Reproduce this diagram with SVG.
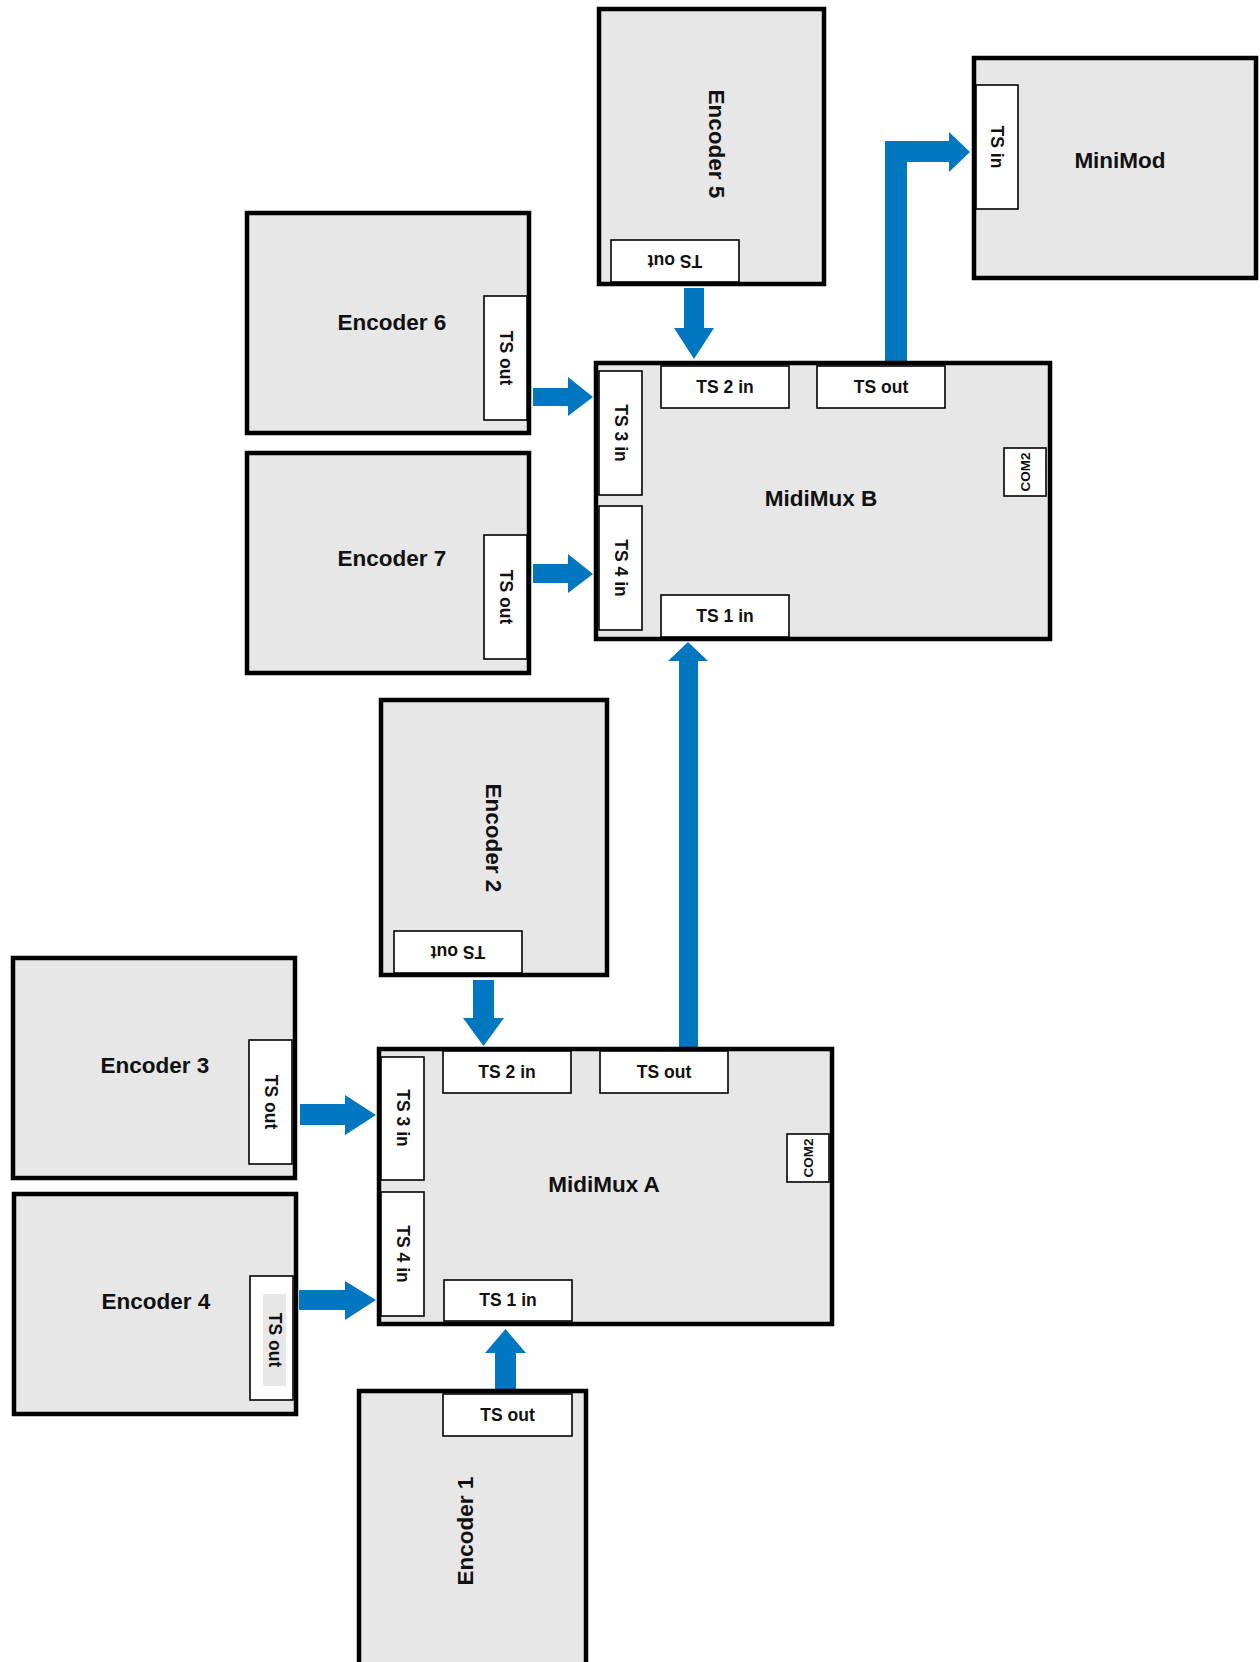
<svg xmlns="http://www.w3.org/2000/svg" width="1260" height="1662" viewBox="0 0 1260 1662">
<style>
.box{fill:#e6e7e6;stroke:#000;stroke-width:4.5}
.port{fill:#fff;stroke:#000;stroke-width:1.6}
.t{font-family:"Liberation Sans",Arial,sans-serif;font-weight:bold;fill:#111;text-anchor:middle;dominant-baseline:central}
.big{font-size:22.5px}
.sm{font-size:17.5px}
.xs{font-size:13.5px}
.arr{fill:#0077c0}
</style>
<rect width="1260" height="1662" fill="#fff"/>
<g id="connectors">
<polygon class="arr" points="684,288 704,288 704,328 714,328 694,359 674,328 684,328"/>
<polygon class="arr" points="533,388 568,388 568,377 593,397 568,416 568,406 533,406"/>
<polygon class="arr" points="533,564 568,564 568,554 593,574 568,593 568,583 533,583"/>
<polygon class="arr" points="679,1048 679,661 668,661 688,642 708,661 698,661 698,1048"/>
<polygon class="arr" points="885,361 885,141 949,141 949,132 970,152 949,172 949,162 907,162 907,361"/>
<polygon class="arr" points="473,980 494,980 494,1018 504,1018 483.5,1046 463,1018 473,1018"/>
<polygon class="arr" points="300,1104 345,1104 345,1095 376,1115 345,1135 345,1125 300,1125"/>
<polygon class="arr" points="299,1290 345,1290 345,1281 376,1300 345,1320 345,1310 299,1310"/>
<polygon class="arr" points="495,1389 495,1353 485,1353 505.5,1329 526,1353 516,1353 516,1389"/>
</g>
<g id="encoder5">
<rect class="box" x="599" y="9" width="225" height="275"/>
<rect class="port" x="611" y="240" width="128" height="42"/>
<text class="t sm" transform="rotate(180 675 261)" x="675" y="261">TS out</text>
<text class="t big" transform="rotate(90 716 144)" x="716" y="144">Encoder 5</text>
</g>
<g id="minimod">
<rect class="box" x="974" y="58" width="282" height="220"/>
<rect class="port" x="976" y="85" width="42" height="124"/>
<text class="t sm" transform="rotate(90 997 147)" x="997" y="147">TS in</text>
<text class="t big" x="1120" y="160">MiniMod</text>
</g>
<g id="encoder6">
<rect class="box" x="247" y="213" width="282" height="220"/>
<rect class="port" x="484" y="296" width="43" height="124"/>
<text class="t sm" transform="rotate(90 505.5 358)" x="505.5" y="358">TS out</text>
<text class="t big" x="392" y="322">Encoder 6</text>
</g>
<g id="encoder7">
<rect class="box" x="247" y="453" width="282" height="220"/>
<rect class="port" x="484" y="535" width="43" height="124"/>
<text class="t sm" transform="rotate(90 505.5 597)" x="505.5" y="597">TS out</text>
<text class="t big" x="392" y="558">Encoder 7</text>
</g>
<g id="midimuxB">
<rect class="box" x="596" y="363" width="454" height="276"/>
<rect class="port" x="599" y="371" width="43" height="124"/>
<rect class="port" x="599" y="506" width="43" height="124"/>
<rect class="port" x="661" y="366" width="128" height="42"/>
<rect class="port" x="817" y="366" width="128" height="42"/>
<rect class="port" x="661" y="595" width="128" height="42"/>
<rect class="port" x="1004" y="448" width="42" height="48"/>
<text class="t sm" transform="rotate(90 620.5 433)" x="620.5" y="433">TS 3 in</text>
<text class="t sm" transform="rotate(90 620.5 568)" x="620.5" y="568">TS 4 in</text>
<text class="t sm" x="725" y="387">TS 2 in</text>
<text class="t sm" x="881" y="387">TS out</text>
<text class="t sm" x="725" y="616">TS 1 in</text>
<text class="t xs" transform="rotate(-90 1025 472)" x="1025" y="472">COM2</text>
<text class="t big" x="821" y="498">MidiMux B</text>
</g>
<g id="encoder2">
<rect class="box" x="381" y="700" width="226" height="275"/>
<rect class="port" x="394" y="931" width="128" height="42"/>
<text class="t sm" transform="rotate(180 458 952)" x="458" y="952">TS out</text>
<text class="t big" transform="rotate(90 493 838)" x="493" y="838">Encoder 2</text>
</g>
<g id="encoder3">
<rect class="box" x="13" y="958" width="282" height="220"/>
<rect class="port" x="249" y="1040" width="43" height="124"/>
<text class="t sm" transform="rotate(90 270.5 1102)" x="270.5" y="1102">TS out</text>
<text class="t big" x="155" y="1065">Encoder 3</text>
</g>
<g id="encoder4">
<rect class="box" x="14" y="1194" width="282" height="220"/>
<rect class="port" x="250" y="1276" width="43" height="124"/>
<rect x="263" y="1294" width="23" height="92" fill="#e6e7e6"/>
<text class="t sm" transform="rotate(90 274.5 1340)" x="274.5" y="1340">TS out</text>
<text class="t big" x="156" y="1301">Encoder 4</text>
</g>
<g id="midimuxA">
<rect class="box" x="379" y="1049" width="453" height="275"/>
<rect class="port" x="381" y="1057" width="43" height="123"/>
<rect class="port" x="381" y="1192" width="43" height="124"/>
<rect class="port" x="443" y="1051" width="128" height="42"/>
<rect class="port" x="600" y="1051" width="128" height="42"/>
<rect class="port" x="444" y="1280" width="128" height="41"/>
<rect class="port" x="787" y="1134" width="42" height="48"/>
<text class="t sm" transform="rotate(90 402.5 1118)" x="402.5" y="1118">TS 3 in</text>
<text class="t sm" transform="rotate(90 402.5 1254)" x="402.5" y="1254">TS 4 in</text>
<text class="t sm" x="507" y="1072">TS 2 in</text>
<text class="t sm" x="664" y="1072">TS out</text>
<text class="t sm" x="508" y="1300">TS 1 in</text>
<text class="t xs" transform="rotate(-90 808 1158)" x="808" y="1158">COM2</text>
<text class="t big" x="604" y="1184">MidiMux A</text>
</g>
<g id="encoder1">
<rect class="box" x="359" y="1391" width="227" height="300"/>
<rect class="port" x="443" y="1394" width="129" height="42"/>
<text class="t sm" x="507.5" y="1415">TS out</text>
<text class="t big" transform="rotate(-90 465 1531)" x="465" y="1531">Encoder 1</text>
</g>
</svg>
